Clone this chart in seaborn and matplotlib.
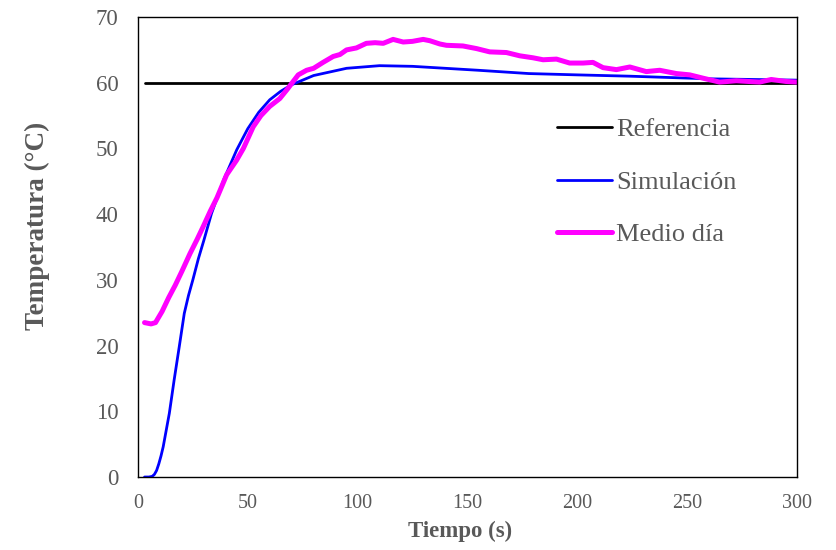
import matplotlib
matplotlib.use("Agg")
import matplotlib.pyplot as plt
import seaborn as sns
import pandas as pd

# Data
ref_t = [3, 300]
ref_T = [60, 60]

sim_t = [3, 5, 6.5, 7.5, 8.5, 9.5, 10.5, 11.5, 14.3, 16.5, 18.8, 21.1, 23, 25, 27.5,
         30, 33.5, 39, 45, 50, 55, 60, 65, 70, 80, 95, 110, 125, 140, 155, 178, 200,
         224, 260, 300]
sim_T = [0, 0, 0.1, 0.4, 1.0, 2.0, 3.2, 4.6, 9.7, 14.8, 19.8, 24.9, 27.6, 30.0,
         33.2, 36.0, 40.1, 45.2, 49.8, 53.0, 55.5, 57.4, 58.7, 59.7, 61.1, 62.2,
         62.6, 62.5, 62.2, 61.9, 61.4, 61.2, 61.0, 60.6, 60.4]

med_t = [3, 6, 8, 11, 14, 17, 20, 23.7, 27, 29.7, 33, 36, 40.4, 44.9, 48, 52.5, 56,
         60, 64.6, 68, 70.7, 73, 76.8, 80, 84.3, 88.9, 92, 95, 99.5, 104, 108, 111.7,
         116.2, 120.8, 125, 129.9, 132.9, 137.5, 140.5, 148, 154.2, 160.2, 167.8,
         173.9, 179.9, 184.5, 190.6, 196.6, 202.7, 207.2, 211.8, 217.9, 224, 231.5,
         237.6, 245.2, 251.3, 257.3, 264.9, 272.5, 283.1, 288.4, 295, 300]
med_T = [23.5, 23.3, 23.5, 25.2, 27.3, 29.2, 31.3, 34.0, 36.2, 38.1, 40.5, 42.5,
         46.0, 48.2, 50.0, 53.3, 55.0, 56.4, 57.6, 59.0, 60.2, 61.2, 61.9, 62.2,
         63.1, 64.0, 64.3, 65.0, 65.3, 66.0, 66.1, 66.0, 66.6, 66.2, 66.3, 66.6,
         66.4, 65.9, 65.7, 65.6, 65.2, 64.7, 64.6, 64.1, 63.8, 63.5, 63.6, 63.0,
         63.0, 63.1, 62.3, 62.0, 62.4, 61.7, 61.9, 61.4, 61.2, 60.7, 60.1, 60.3,
         60.1, 60.5, 60.2, 60.1]

x_ticks = [0, 50, 100, 150, 200, 250, 300]
y_ticks = [0, 10, 20, 30, 40, 50, 60, 70]

sns.set_theme(style="white")
plt.rcParams['font.family'] = ['Liberation Serif', 'DejaVu Serif']
gray = '#595959'

fig = plt.figure(figsize=(8.36, 5.5), dpi=100)
ax = fig.add_axes([0.165, 0.1327, 0.788, 0.8363])

sns.lineplot(x=ref_t, y=ref_T, ax=ax, color='black', linewidth=2.0, label='Referencia')
sns.lineplot(x=sim_t, y=sim_T, ax=ax, color='#0000FF', linewidth=2.0, label='Simulación')
sns.lineplot(x=med_t, y=med_T, ax=ax, color='#FF00FF', linewidth=3.6, label='Medio día')

ax.set_xlim(0, 300)
ax.set_ylim(0, 70)
ax.set_xticks(x_ticks)
ax.set_yticks(y_ticks)
ax.tick_params(direction='in', length=5, width=1, colors='black', labelcolor=gray)
ax.tick_params(axis='x', labelsize=14.5, pad=12)
ax.tick_params(axis='y', labelsize=16.5, pad=14)
for s in ax.spines.values():
    s.set_color('black')
    s.set_linewidth(1.0)
    s.set_visible(True)

ax.set_xlabel('Tiempo (s)', fontsize=16.5, fontweight='bold', color=gray,
              va='center')
ax.xaxis.set_label_coords(0.489, -0.118)
ax.set_ylabel('Temperatura (°C)', fontsize=19.5, fontweight='bold', color=gray,
              va='center')
ax.yaxis.set_label_coords(-0.153, 0.547)

leg = ax.legend(loc='upper left', bbox_to_anchor=(0.636, 0.781), frameon=False,
                fontsize=19, handlelength=2.1, handletextpad=0.15,
                labelspacing=1.1, borderpad=0, borderaxespad=0)
for t in leg.get_texts():
    t.set_color(gray)

fig.savefig('out.png', dpi=100)
